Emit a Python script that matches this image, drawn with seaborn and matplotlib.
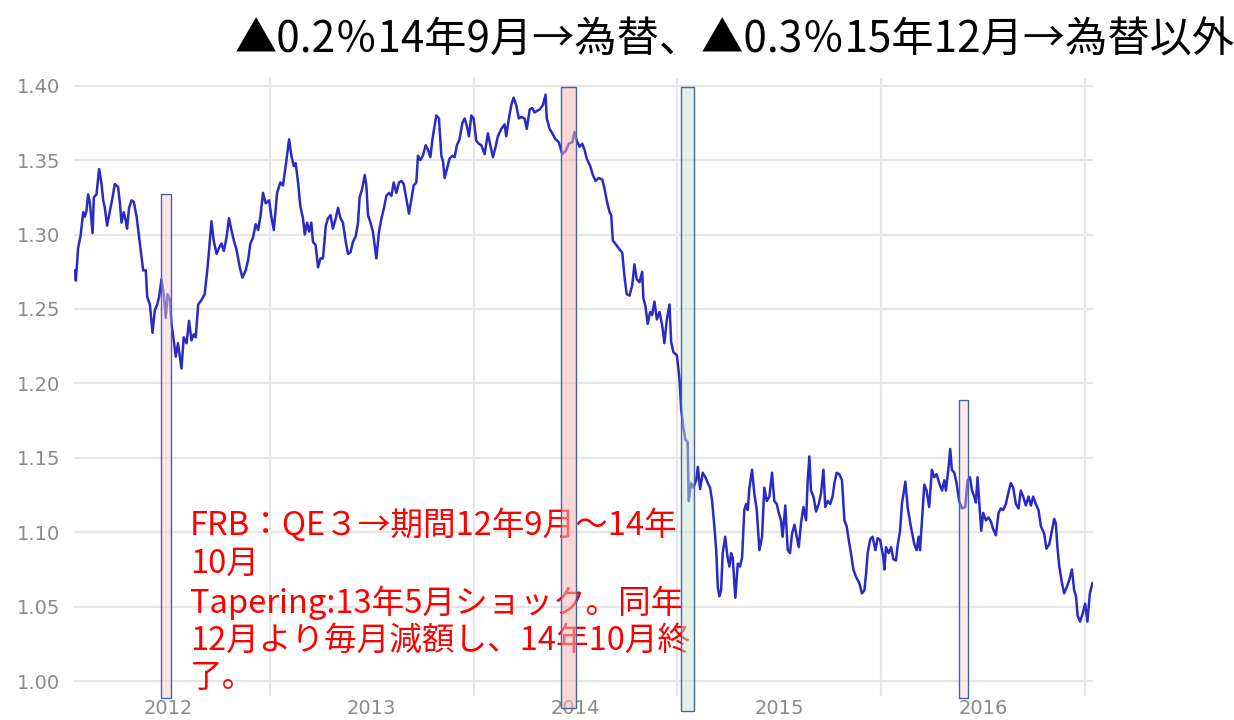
import matplotlib
matplotlib.use("Agg")
import matplotlib.pyplot as plt
from matplotlib.patches import Rectangle
from matplotlib.colors import to_rgba
from matplotlib.ticker import FixedLocator
import seaborn as sns
import pandas as pd

# EUR/USD (time in decimal years)
t = [2011.544, 2011.549, 2011.560, 2011.572, 2011.585, 2011.593, 2011.601, 2011.609, 2011.618, 2011.631,
     2011.637, 2011.650, 2011.663, 2011.675, 2011.683, 2011.691, 2011.702, 2011.716, 2011.729, 2011.740,
     2011.756, 2011.765, 2011.773, 2011.784, 2011.794, 2011.800, 2011.810, 2011.822, 2011.833, 2011.847,
     2011.863, 2011.879, 2011.892, 2011.899, 2011.912, 2011.925, 2011.936, 2011.948, 2011.957, 2011.969,
     2011.980, 2011.990, 2011.999, 2012.010, 2012.018, 2012.029, 2012.039, 2012.050, 2012.067, 2012.078,
     2012.092, 2012.104, 2012.116, 2012.127, 2012.137, 2012.149, 2012.165, 2012.181, 2012.195, 2012.202,
     2012.214, 2012.225, 2012.239, 2012.251, 2012.263, 2012.275, 2012.288, 2012.300, 2012.312, 2012.324,
     2012.337, 2012.353, 2012.366, 2012.382, 2012.394, 2012.405, 2012.418, 2012.431, 2012.443, 2012.454,
     2012.467, 2012.480, 2012.497, 2012.508, 2012.520, 2012.536, 2012.552, 2012.565, 2012.578, 2012.595,
     2012.606, 2012.618, 2012.627, 2012.639, 2012.650, 2012.663, 2012.672, 2012.683, 2012.693, 2012.704,
     2012.712, 2012.725, 2012.737, 2012.749, 2012.761, 2012.775, 2012.786, 2012.798, 2012.810, 2012.824,
     2012.835, 2012.847, 2012.859, 2012.873, 2012.884, 2012.896, 2012.908, 2012.922, 2012.933, 2012.941,
     2012.954, 2012.966, 2012.974, 2012.982, 2012.994, 2013.006, 2013.023, 2013.036, 2013.048, 2013.059,
     2013.072, 2013.085, 2013.097, 2013.108, 2013.121, 2013.134, 2013.146, 2013.157, 2013.170, 2013.183,
     2013.195, 2013.206, 2013.219, 2013.227, 2013.239, 2013.251, 2013.265, 2013.276, 2013.288, 2013.298,
     2013.304, 2013.317, 2013.330, 2013.342, 2013.350, 2013.358, 2013.369, 2013.382, 2013.396, 2013.407,
     2013.418, 2013.431, 2013.445, 2013.456, 2013.467, 2013.477, 2013.489, 2013.500, 2013.513, 2013.526,
     2013.538, 2013.554, 2013.570, 2013.582, 2013.595, 2013.608, 2013.619, 2013.636, 2013.652, 2013.660,
     2013.673, 2013.685, 2013.696, 2013.709, 2013.722, 2013.734, 2013.750, 2013.761, 2013.775, 2013.788,
     2013.799, 2013.810, 2013.824, 2013.840, 2013.853, 2013.859, 2013.873, 2013.886, 2013.902, 2013.918,
     2013.935, 2013.951, 2013.967, 2013.984, 2013.995, 2014.006, 2014.020, 2014.033, 2014.044, 2014.055,
     2014.072, 2014.085, 2014.098, 2014.114, 2014.131, 2014.142, 2014.153, 2014.167, 2014.175, 2014.183,
     2014.200, 2014.216, 2014.229, 2014.240, 2014.251, 2014.265, 2014.278, 2014.289, 2014.300, 2014.314,
     2014.327, 2014.333, 2014.343, 2014.354, 2014.366, 2014.376, 2014.387, 2014.399, 2014.412, 2014.425,
     2014.436, 2014.448, 2014.461, 2014.469, 2014.480, 2014.497, 2014.510, 2014.518, 2014.529, 2014.539,
     2014.550, 2014.555, 2014.567, 2014.578, 2014.592, 2014.600, 2014.611, 2014.624, 2014.637, 2014.649,
     2014.660, 2014.670, 2014.681, 2014.690, 2014.698, 2014.706, 2014.714, 2014.722, 2014.734, 2014.746,
     2014.755, 2014.763, 2014.771, 2014.784, 2014.796, 2014.807, 2014.817, 2014.828, 2014.837, 2014.845,
     2014.853, 2014.866, 2014.877, 2014.889, 2014.902, 2014.915, 2014.926, 2014.938, 2014.951, 2014.964,
     2014.975, 2014.987, 2014.997, 2015.008, 2015.016, 2015.029, 2015.041, 2015.052, 2015.062, 2015.074,
     2015.085, 2015.095, 2015.106, 2015.118, 2015.131, 2015.139, 2015.147, 2015.155, 2015.167, 2015.180,
     2015.193, 2015.204, 2015.216, 2015.225, 2015.237, 2015.249, 2015.261, 2015.270, 2015.281, 2015.294,
     2015.307, 2015.319, 2015.330, 2015.340, 2015.351, 2015.363, 2015.376, 2015.392, 2015.405, 2015.417,
     2015.425, 2015.433, 2015.445, 2015.457, 2015.471, 2015.482, 2015.494, 2015.510, 2015.515, 2015.523,
     2015.536, 2015.548, 2015.559, 2015.572, 2015.580, 2015.592, 2015.601, 2015.618, 2015.629, 2015.646,
     2015.662, 2015.673, 2015.683, 2015.690, 2015.700, 2015.711, 2015.722, 2015.735, 2015.748, 2015.760,
     2015.771, 2015.784, 2015.798, 2015.809, 2015.817, 2015.830, 2015.838, 2015.846, 2015.858, 2015.869,
     2015.882, 2015.896, 2015.912, 2015.923, 2015.935, 2015.945, 2015.956, 2015.964, 2015.972, 2015.984,
     2015.990, 2016.000, 2016.013, 2016.026, 2016.038, 2016.049, 2016.062, 2016.075, 2016.087, 2016.098,
     2016.111, 2016.124, 2016.135, 2016.147, 2016.160, 2016.173, 2016.184, 2016.196, 2016.209, 2016.222,
     2016.234, 2016.245, 2016.258, 2016.271, 2016.283, 2016.299, 2016.310, 2016.324, 2016.337, 2016.348,
     2016.356, 2016.364, 2016.373, 2016.386, 2016.397, 2016.409, 2016.422, 2016.435, 2016.446, 2016.455,
     2016.463, 2016.475, 2016.487, 2016.500, 2016.511, 2016.523, 2016.536]

rate = [1.276, 1.269, 1.291, 1.299, 1.315, 1.312, 1.316, 1.327, 1.321, 1.301,
        1.325, 1.327, 1.344, 1.334, 1.323, 1.318, 1.306, 1.316, 1.325, 1.334,
        1.332, 1.321, 1.308, 1.315, 1.309, 1.304, 1.318, 1.323, 1.322, 1.312,
        1.294, 1.276, 1.276, 1.258, 1.253, 1.234, 1.249, 1.253, 1.258, 1.270,
        1.260, 1.244, 1.260, 1.256, 1.240, 1.229, 1.218, 1.227, 1.210, 1.231,
        1.227, 1.242, 1.229, 1.233, 1.231, 1.253, 1.256, 1.260, 1.278, 1.289,
        1.309, 1.296, 1.287, 1.291, 1.294, 1.289, 1.298, 1.311, 1.303, 1.296,
        1.290, 1.278, 1.271, 1.276, 1.283, 1.294, 1.298, 1.307, 1.303, 1.312,
        1.328, 1.321, 1.323, 1.312, 1.303, 1.328, 1.335, 1.333, 1.346, 1.364,
        1.353, 1.346, 1.348, 1.335, 1.319, 1.311, 1.300, 1.308, 1.302, 1.308,
        1.295, 1.293, 1.278, 1.284, 1.284, 1.306, 1.311, 1.313, 1.304, 1.311,
        1.318, 1.311, 1.308, 1.295, 1.287, 1.288, 1.295, 1.299, 1.308, 1.325,
        1.331, 1.340, 1.333, 1.313, 1.308, 1.302, 1.284, 1.302, 1.311, 1.317,
        1.326, 1.328, 1.326, 1.335, 1.328, 1.335, 1.336, 1.334, 1.324, 1.314,
        1.324, 1.333, 1.335, 1.353, 1.350, 1.353, 1.360, 1.357, 1.352, 1.364,
        1.369, 1.380, 1.378, 1.353, 1.349, 1.338, 1.344, 1.351, 1.353, 1.352,
        1.360, 1.364, 1.375, 1.378, 1.373, 1.366, 1.380, 1.378, 1.363, 1.361,
        1.360, 1.354, 1.368, 1.360, 1.352, 1.359, 1.366, 1.371, 1.374, 1.366,
        1.378, 1.387, 1.392, 1.387, 1.378, 1.379, 1.378, 1.371, 1.384, 1.385,
        1.382, 1.383, 1.384, 1.387, 1.394, 1.378, 1.371, 1.368, 1.364, 1.362,
        1.354, 1.356, 1.361, 1.362, 1.369, 1.363, 1.359, 1.361, 1.357, 1.351,
        1.346, 1.340, 1.336, 1.338, 1.337, 1.331, 1.323, 1.315, 1.313, 1.296,
        1.293, 1.290, 1.288, 1.272, 1.260, 1.259, 1.266, 1.280, 1.270, 1.268,
        1.275, 1.257, 1.252, 1.240, 1.248, 1.246, 1.255, 1.243, 1.248, 1.239,
        1.227, 1.243, 1.253, 1.228, 1.221, 1.219, 1.203, 1.183, 1.171, 1.162,
        1.161, 1.121, 1.133, 1.130, 1.135, 1.144, 1.129, 1.140, 1.137, 1.133,
        1.130, 1.121, 1.104, 1.088, 1.063, 1.057, 1.061, 1.086, 1.097, 1.083,
        1.077, 1.086, 1.083, 1.056, 1.079, 1.077, 1.083, 1.115, 1.119, 1.115,
        1.130, 1.142, 1.126, 1.115, 1.088, 1.097, 1.130, 1.121, 1.124, 1.140,
        1.121, 1.119, 1.113, 1.108, 1.097, 1.118, 1.088, 1.086, 1.099, 1.105,
        1.097, 1.090, 1.106, 1.117, 1.108, 1.135, 1.151, 1.128, 1.124, 1.114,
        1.119, 1.126, 1.142, 1.117, 1.121, 1.119, 1.124, 1.133, 1.140, 1.139,
        1.135, 1.108, 1.104, 1.095, 1.086, 1.075, 1.070, 1.066, 1.059, 1.061,
        1.072, 1.086, 1.095, 1.097, 1.088, 1.096, 1.095, 1.083, 1.075, 1.090,
        1.086, 1.090, 1.082, 1.081, 1.091, 1.101, 1.119, 1.134, 1.117, 1.103,
        1.092, 1.088, 1.097, 1.088, 1.109, 1.132, 1.128, 1.117, 1.142, 1.137,
        1.139, 1.133, 1.128, 1.135, 1.128, 1.144, 1.156, 1.142, 1.140, 1.133,
        1.121, 1.116, 1.117, 1.135, 1.137, 1.128, 1.124, 1.120, 1.137, 1.113,
        1.101, 1.113, 1.108, 1.110, 1.107, 1.102, 1.098, 1.113, 1.116, 1.115,
        1.119, 1.127, 1.133, 1.130, 1.119, 1.116, 1.128, 1.124, 1.118, 1.124,
        1.118, 1.124, 1.119, 1.115, 1.104, 1.099, 1.089, 1.092, 1.101, 1.109,
        1.106, 1.090, 1.077, 1.066, 1.059, 1.063, 1.068, 1.075, 1.061, 1.057,
        1.044, 1.040, 1.045, 1.052, 1.040, 1.059, 1.066]

years = [2012, 2013, 2014, 2015, 2016]
y_ticks = [1.00, 1.05, 1.10, 1.15, 1.20, 1.25, 1.30, 1.35, 1.40]

# highlight boxes: (start, end, low, high)
box_start = [2011.966, 2013.931, 2014.515, 2015.882]
box_end = [2012.015, 2014.000, 2014.583, 2015.926]
box_low = [0.989, 0.982, 0.980, 0.989]
box_high = [1.327, 1.399, 1.399, 1.189]

title = "▲0.2％14年9月→為替、▲0.3％15年12月→為替以外"
note = ("FRB：QE３→期間12年9月～14年\n10月\n"
        "Tapering:13年5月ショック。同年\n"
        "12月より毎月減額し、14年10月終\n了。")

sns.set_theme(style="white")
plt.rcParams['font.family'] = ['DejaVu Sans', 'Noto Sans CJK JP']
jp = ['Noto Sans CJK JP', 'DejaVu Sans']

df = pd.DataFrame({'t': t, 'rate': rate})

fig = plt.figure(figsize=(12.34, 7.2), dpi=100)
ax = fig.add_axes([0.060, 0.0333, 0.826, 0.858])

sns.lineplot(data=df, x='t', y='rate', ax=ax, color='#2a2ac4', linewidth=1.8, zorder=3)

ax.set_xlim(2011.54, 2016.54)
ax.set_ylim(0.990, 1.405)
ax.set_xticks(years)
ax.set_xticklabels([str(y) for y in years])
ax.xaxis.set_minor_locator(FixedLocator([y + 0.5 for y in years]))
ax.set_yticks(y_ticks)
ax.set_yticklabels([f"{v:.2f}" for v in y_ticks])
ax.tick_params(axis='both', which='both', length=0, labelsize=14, labelcolor='#8a8a8a')
ax.tick_params(axis='y', pad=10)
ax.tick_params(axis='x', pad=2)
ax.grid(False)
ax.grid(True, axis='y', which='major', color='#e6e6e6', linewidth=1.6)
ax.grid(True, axis='x', which='minor', color='#e6e6e6', linewidth=1.6)
ax.set_xlabel('')
ax.set_ylabel('')
for s in ax.spines.values():
    s.set_visible(False)

fills = ['#f7cfcf', '#f4b6b6', '#c6e6d0', '#f7cfcf']
alphas = [0.5, 0.55, 0.5, 0.4]
for x0, x1, lo, hi, fc, a in zip(box_start, box_end, box_low, box_high, fills, alphas):
    ax.add_patch(Rectangle((x0, lo), x1 - x0, hi - lo, facecolor=to_rgba(fc, a),
                           edgecolor='#4563ad', linewidth=1.0, clip_on=False, zorder=5))

ax.text(0.114, 0.303, note, transform=ax.transAxes, color='#ff0000', fontsize=23.5,
        family=jp, va='top', ha='left', linespacing=1.21, zorder=4)

fig.text(0.1905, 0.944, title, color='black', fontsize=30.4, family=jp, va='center', ha='left')

fig.savefig('out.png', dpi=100)
